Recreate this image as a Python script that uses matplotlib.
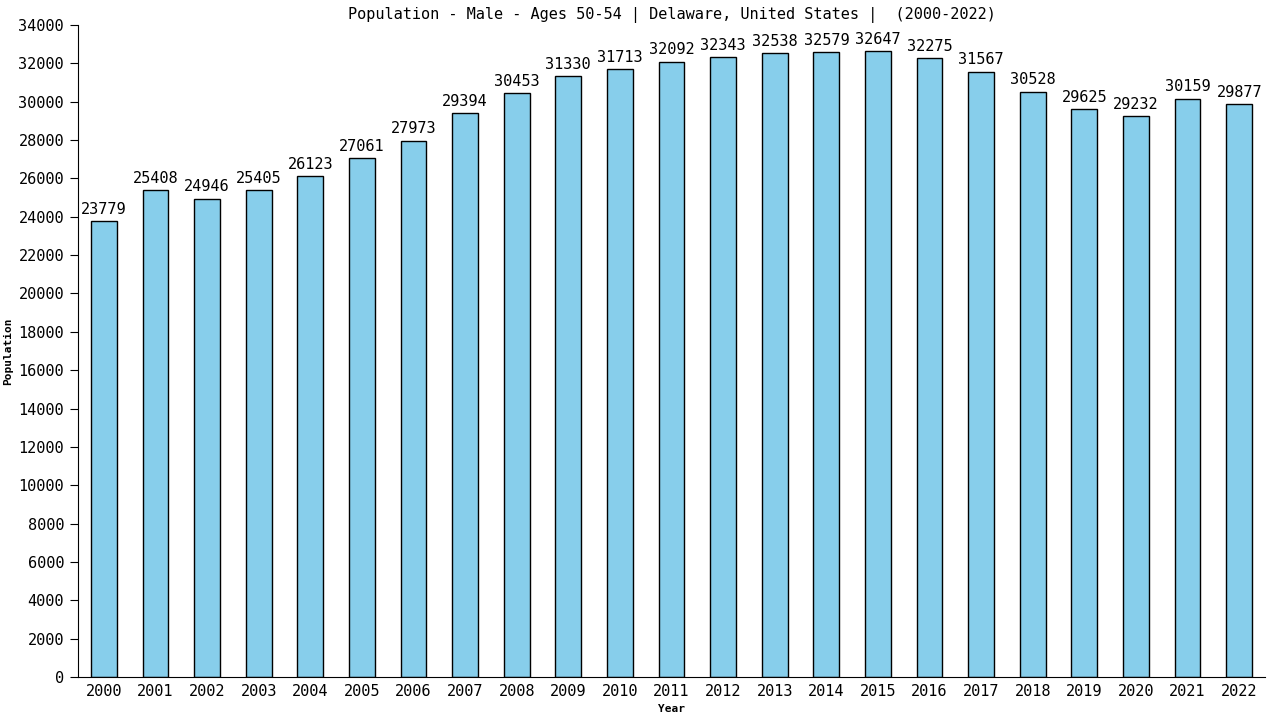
import matplotlib
matplotlib.use("Agg")
import matplotlib.pyplot as plt

years = [str(y) for y in range(2000, 2023)]
values = [23779, 25408, 24946, 25405, 26123, 27061, 27973, 29394, 30453, 31330,
          31713, 32092, 32343, 32538, 32579, 32647, 32275, 31567, 30528, 29625,
          29232, 30159, 29877]
yticks = list(range(0, 34001, 2000))

plt.rcParams['font.family'] = ['DejaVu Sans Mono']

fig = plt.figure(figsize=(12.8, 7.2), dpi=100)
ax = fig.add_axes([78/1280, 43/720, (1265-78)/1280, (677-25)/720])
x = list(range(len(years)))
ax.bar(x, values, width=0.5, color='#87CEEB', edgecolor='black', linewidth=1.0)
for xi, v in zip(x, values):
    ax.annotate(str(v), (xi, v), xytext=(0, 3), textcoords='offset points',
                ha='center', va='bottom', fontsize=11)
ax.set_xlim(-0.5, len(years) - 0.5)
ax.set_ylim(0, 34000)
ax.set_yticks(yticks)
ax.set_yticklabels([str(t) for t in yticks], fontsize=11)
ax.set_xticks(x)
ax.set_xticklabels(years, fontsize=11)
ax.tick_params(axis='x', length=0, pad=5)
ax.tick_params(axis='y', length=6, direction='out', pad=4)
for s in ['top', 'right']:
    ax.spines[s].set_visible(False)
ax.set_xlabel('Year', fontsize=8, fontweight='bold', labelpad=4)
ax.set_ylabel('Population', fontsize=8, fontweight='bold')
ax.set_title('Population - Male - Ages 50-54 | Delaware, United States |  (2000-2022)',
             fontsize=11, pad=4)
fig.savefig('out.png', dpi=100)
